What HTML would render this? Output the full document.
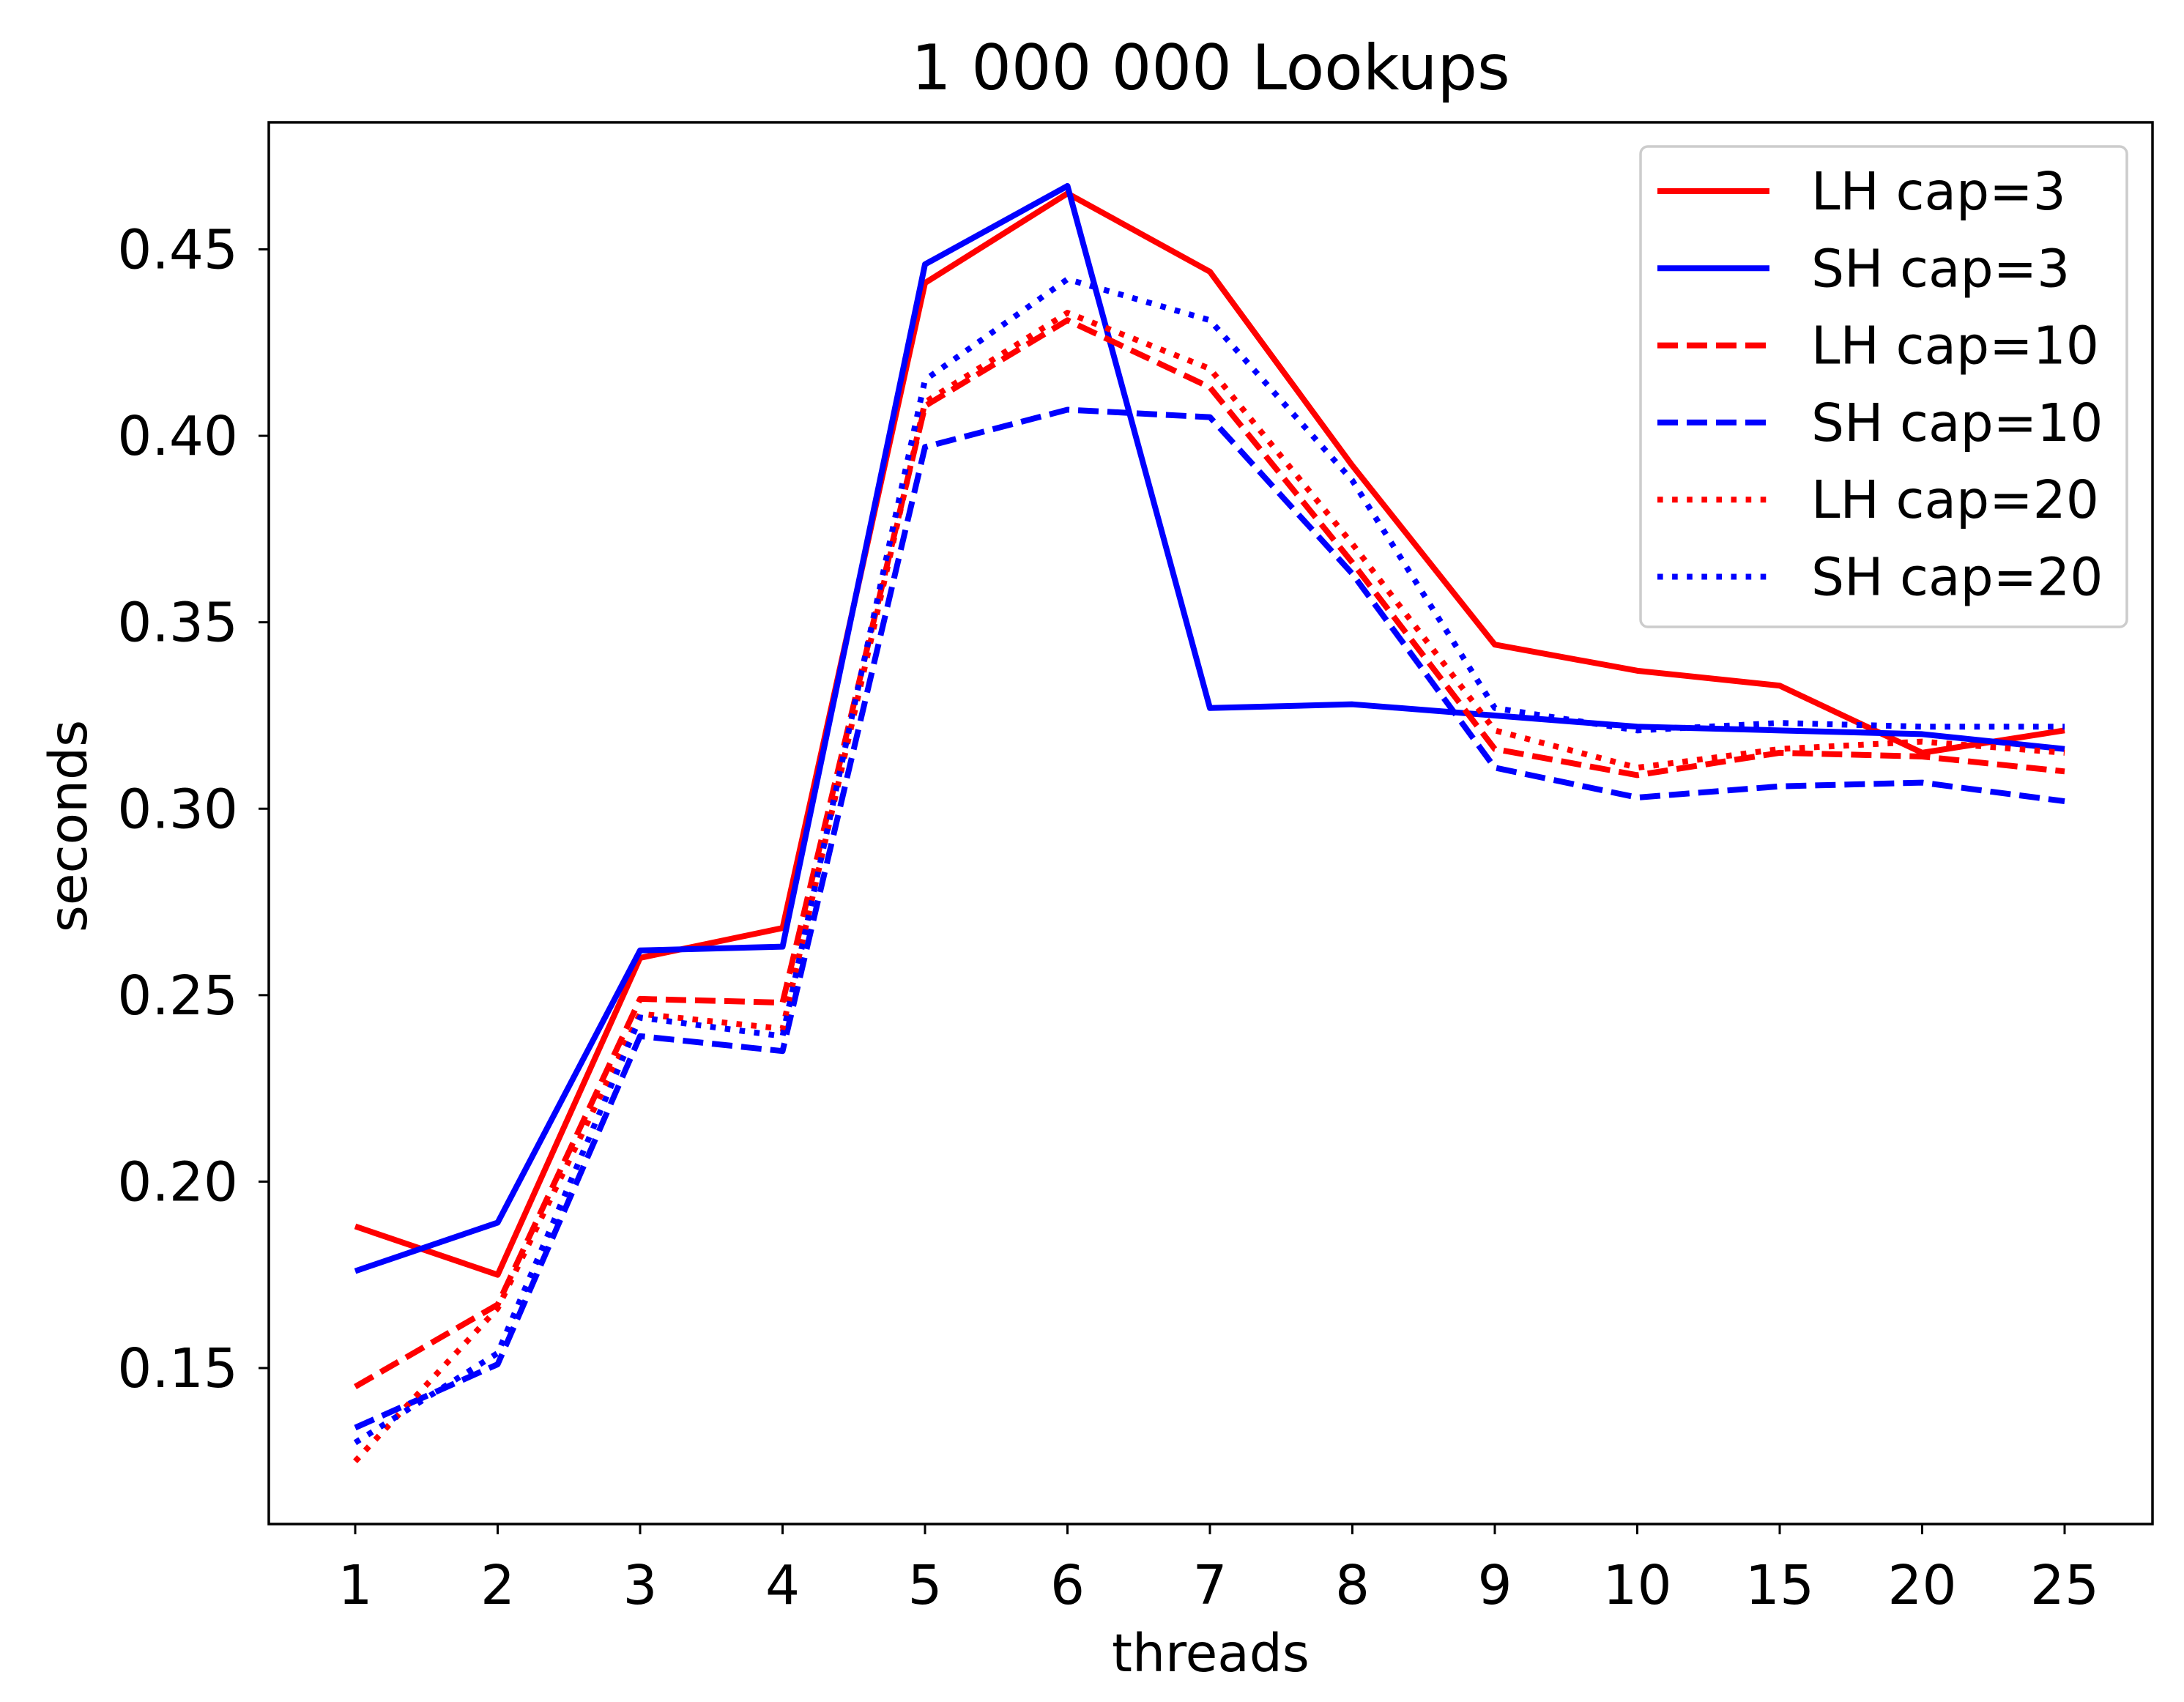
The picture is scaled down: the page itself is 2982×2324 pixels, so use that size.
<!DOCTYPE html>
<html><head><meta charset="utf-8"><style>body{margin:0;background:#fff}svg{display:block}text{font-family:"DejaVu Sans","Liberation Sans",sans-serif;fill:#000}</style></head>
<body>
<svg id="chart" width="2982" height="2324" viewBox="0 0 2982 2324" xmlns="http://www.w3.org/2000/svg">
<rect width="2982" height="2324" fill="#fff"/>
<text x="1653" y="122" font-size="86" text-anchor="middle">1 000 000 Lookups</text>
<g id="plot"></g>
<rect x="367" y="167" width="2572" height="1914" fill="none" stroke="#000" stroke-width="3.5"/>
<text x="1653" y="2282" font-size="71" text-anchor="middle">threads</text>
<text transform="translate(118,1128) rotate(-90)" font-size="71" text-anchor="middle">seconds</text>
<g id="legend"></g>
</svg>
<script>
const categories = ["1","2","3","4","5","6","7","8","9","10","15","20","25"];
const yTicks = [0.15,0.20,0.25,0.30,0.35,0.40,0.45];
const yTickLabels = ["0.15","0.20","0.25","0.30","0.35","0.40","0.45"];
const seriesNames = ["LH cap=3","SH cap=3","LH cap=10","SH cap=10","LH cap=20","SH cap=20"];
const lhCap3 = [0.188,0.175,0.260,0.268,0.441,0.465,0.444,0.392,0.344,0.337,0.333,0.315,0.321];
const shCap3 = [0.176,0.189,0.262,0.263,0.446,0.467,0.327,0.328,0.325,0.322,0.321,0.320,0.316];
const lhCap10 = [0.145,0.167,0.249,0.248,0.408,0.431,0.413,0.366,0.316,0.309,0.315,0.314,0.310];
const shCap10 = [0.134,0.151,0.239,0.235,0.397,0.407,0.405,0.363,0.311,0.303,0.306,0.307,0.302];
const lhCap20 = [0.125,0.166,0.245,0.241,0.409,0.433,0.418,0.371,0.321,0.311,0.316,0.318,0.315];
const shCap20 = [0.130,0.154,0.244,0.239,0.415,0.442,0.431,0.388,0.327,0.321,0.323,0.322,0.322];

const NS="http://www.w3.org/2000/svg";
const xPos=i=>485+i*(2819-485)/(categories.length-1);
const yPos=v=>340.5+(0.45-v)*(1868-340.5)/0.30;
const plot=document.getElementById('plot');
const legend=document.getElementById('legend');
const styles=[["#ff0000",null],["#0000ff",null],["#ff0000","28 12"],["#0000ff","28 12"],["#ff0000","7.6 12.5"],["#0000ff","7.6 12.5"]];
const data=[lhCap3,shCap3,lhCap10,shCap10,lhCap20,shCap20];
function mk(tag,attrs){const e=document.createElementNS(NS,tag);for(const k in attrs)e.setAttribute(k,attrs[k]);return e;}
categories.forEach((c,i)=>{
  const t=mk('line',{x1:xPos(i),x2:xPos(i),y1:2081,y2:2095,stroke:'#000','stroke-width':3});
  
  
  plot.appendChild(t);
  const l=mk('text',{x:xPos(i),y:2190,'font-size':74,'text-anchor':'middle'});
  l.textContent=c;
  
  
  plot.appendChild(l);
});
yTicks.forEach((v,i)=>{
  const t=mk('line',{x1:353,x2:367,y1:yPos(v),y2:yPos(v),stroke:'#000','stroke-width':3});
  
  
  plot.appendChild(t);
  const l=mk('text',{x:325,y:yPos(v)+26,'font-size':74,'text-anchor':'end'});
  l.textContent=yTickLabels[i];
  
  
  plot.appendChild(l);
});
data.forEach((s,k)=>{
  const p=mk('polyline',{points:s.map((v,i)=>xPos(i)+','+yPos(v)).join(' '),fill:'none',stroke:styles[k][0],'stroke-width':8,'stroke-linejoin':'round'});
  if(styles[k][1])p.setAttribute('stroke-dasharray',styles[k][1]);
  
  
  plot.appendChild(p);
});
const box=mk('rect',{x:2240,y:200,width:664,height:656,rx:10,fill:'#fff','fill-opacity':0.8,stroke:'#cccccc','stroke-width':3.5});


legend.appendChild(box);
seriesNames.forEach((n,k)=>{
  const y=261+k*105.3;
  const ln=mk('line',{x1:2263,x2:2416,y1:y,y2:y,stroke:styles[k][0],'stroke-width':8});
  if(styles[k][1])ln.setAttribute('stroke-dasharray',styles[k][1]);
  
  
  legend.appendChild(ln);
  const t=mk('text',{x:2473,y:y+25,'font-size':71});
  t.textContent=n;
  
  
  legend.appendChild(t);
});
</script>
</body></html>
